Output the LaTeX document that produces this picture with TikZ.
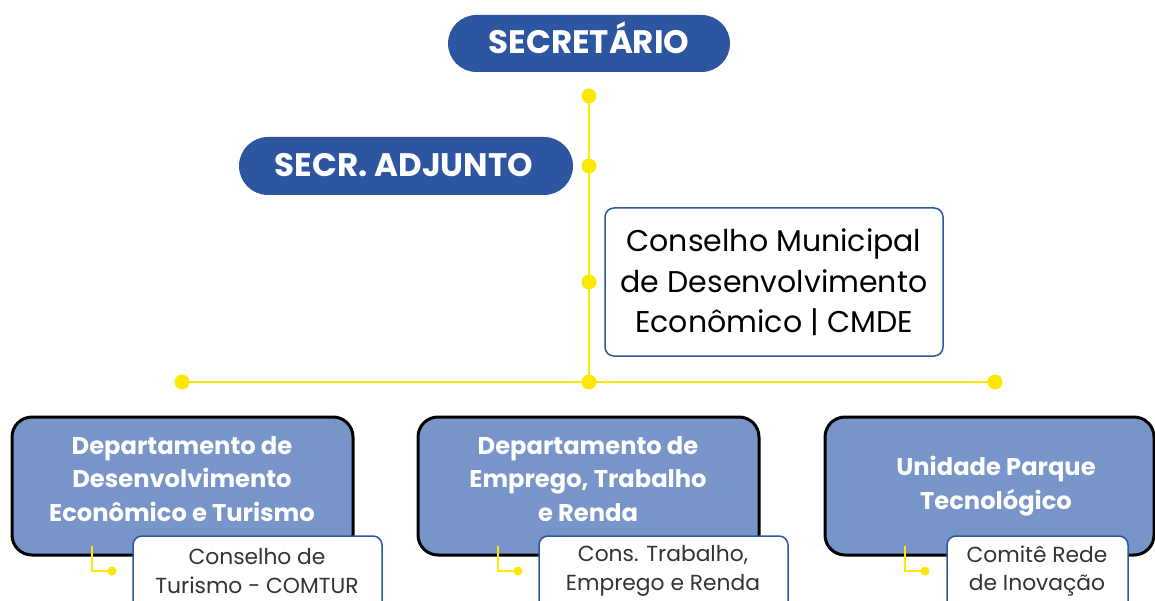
\documentclass[tikz,border=0pt]{standalone}
\usepackage{fontspec}
\setmainfont{Poppins}
\definecolor{dblue}{HTML}{2D55A0}
\definecolor{lblue}{HTML}{7895C9}
\definecolor{yel}{HTML}{FFE800}
\definecolor{gtext}{HTML}{333333}
\begin{document}
\begin{tikzpicture}[x=1pt,y=-1pt,
  pilltext/.style={text=white,font=\bfseries\fontsize{32.5}{36}\selectfont,text height=23pt,text depth=0pt,inner sep=0pt},
  dept/.style={fill=lblue,draw=black,line width=3pt,rounded corners=20pt},
  depttext/.style={text=white,font=\bfseries\fontsize{24.2}{33.5}\selectfont,align=center},
  cmde/.style={fill=white,draw=dblue,line width=1.5pt,rounded corners=9pt},
  cmdetext/.style={text=black,font=\fontsize{30}{40.5}\selectfont,align=center},
  sub/.style={fill=white,draw=dblue,line width=1.5pt,rounded corners=9pt},
  subtext/.style={text=gtext,font=\fontsize{21.8}{28.5}\selectfont,align=center},
  link/.style={draw=yel,line width=2.5pt},
  dot/.style={circle,fill=yel,inner sep=0pt,minimum size=15pt},
  sdot/.style={circle,fill=yel,inner sep=0pt,minimum size=9pt}
]
\useasboundingbox (0,0) rectangle (1155,601);
% top pills
\fill[dblue,rounded corners=28.5pt] (448,15) rectangle (730,72);
\node[pilltext] (sec) at (589,42.5) {SECRETÁRIO};
\fill[dblue,rounded corners=29pt] (239,137) rectangle (573,195);
\node[pilltext] (adj) at (404,165.5) {SECR. ADJUNTO};
% CMDE box
\draw[cmde] (605,208) rectangle (943,356);
\node[cmdetext] (cm) at (774,282.5) {Conselho Municipal\\de Desenvolvimento\\Econômico | CMDE};
% connectors
\coordinate (d0) at (589,96);
\coordinate (d1) at (589,166);
\coordinate (d2) at (589,282);
\coordinate (d3) at (589,382);
\coordinate (dl) at (182,382);
\coordinate (dr) at (995,382);
\draw[link] (d0) -- (d3);
\draw[link] (dl) -- (dr);
\foreach \c in {d0,d1,d2,d3,dl,dr} \node[dot] at (\c) {};
% departments
\draw[dept] (12,417) rectangle (353,555);
\node[depttext] (dep1) at (182,479) {Departamento de\\Desenvolvimento\\Econômico e Turismo};
\draw[dept] (418,417) rectangle (759,555);
\node[depttext] (dep2) at (588,479) {Departamento de\\Emprego, Trabalho\\e Renda};
\draw[dept] (825,417) rectangle (1154,555);
\node[depttext] (dep3) at (996,486) {Unidade Parque\\Tecnológico};
% sub-boxes
\draw[sub] (133,536) rectangle (382,615);
\node[subtext] (s1) at (257,571) {Conselho de\\Turismo - COMTUR};
\draw[sub] (539,536) rectangle (788,615);
\node[subtext] (s2) at (663,571) {Cons. Trabalho,\\Emprego e Renda};
\draw[sub] (947,536) rectangle (1128,615);
\node[subtext] (s3) at (1037,571) {Comitê Rede\\de Inovação};
% small L connectors
\foreach \x in {92,498,905}{
  \draw[draw=yel,line width=1.8pt] (\x,546) -- (\x,571) -- (\x+20,571);
  \node[sdot] at (\x+20,571) {};
}
\end{tikzpicture}
\end{document}
